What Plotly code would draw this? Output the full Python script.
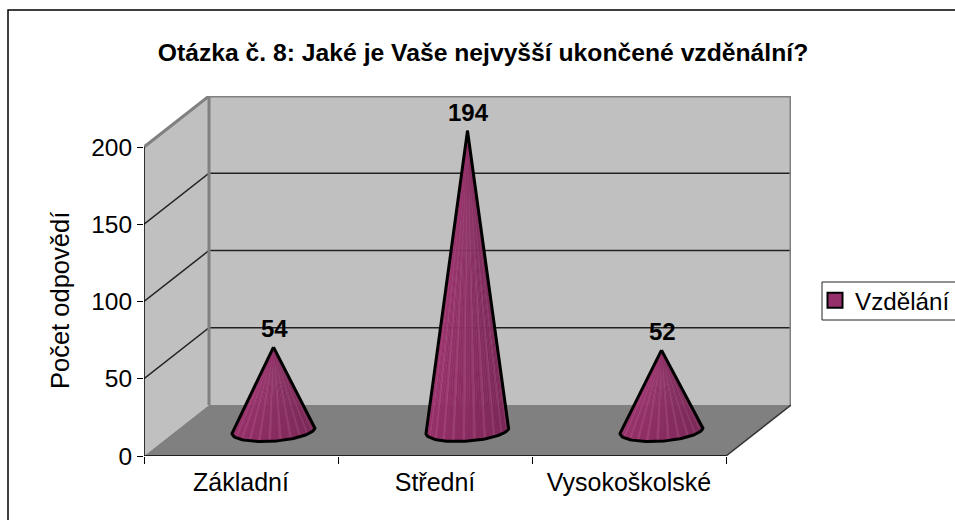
import math
import plotly.graph_objects as go

TITLE = "Otázka č. 8: Jaké je Vaše nejvyšší ukončené vzděnální?"
categories = ["Základní", "Střední", "Vysokoškolské"]
series_name = "Vzdělání"
values = [54, 194, 52]
y_ticks = [0, 50, 100, 150, 200]
y_title = "Počet odpovědí"

W, H = 955, 520
L, R, T, B = 144, 726, 147, 456          # front plane of the 3-D box, px
DPX, DPY = 65, 51                        # oblique depth offset, px
PX_X = (R - L) / len(categories)
PX_Y = (B - T) / y_ticks[-1]
DX = DPX / PX_X
DY = DPY / PX_Y
N = len(categories)
WALL, FLOOR, EDGE = "#c0c0c0", "#808080", "#808080"
PA_R, PA_T = R + DPX, T - DPY            # plot area is the whole box

fig = go.Figure()


def poly(xs, ys, fill=None, line=None, width=1):
    fig.add_trace(go.Scatter(
        x=xs, y=ys, mode="lines", cliponaxis=False, showlegend=False, hoverinfo="skip",
        fill="toself" if fill else None, fillcolor=fill,
        line=dict(color=line or "rgba(0,0,0,0)", width=width)))


top = y_ticks[-1]
poly([0, DX, DX, 0, 0], [0, DY, top + DY, top, 0], fill=WALL)              # side wall
poly([DX, N + DX, N + DX, DX, DX], [DY, DY, top + DY, top + DY, DY], fill=WALL)  # back wall
poly([0, N, N + DX, DX, 0], [0, 0, DY, DY, 0], fill=FLOOR)                 # floor
for v in y_ticks[1:-1]:
    poly([0, DX, N + DX], [v, v + DY, v + DY], line="#222222", width=1.5)
poly([0, DX, N + DX, N + DX], [top, top + DY, top + DY, DY], line=EDGE, width=3)
poly([DX, DX], [DY, top + DY], line=EDGE, width=3)
poly([N, N + DX], [0, DY], line="#333333", width=1.5)
poly([0, N], [0, 0], line="#000000", width=1.5)      # front axis line
poly([0, 0], [0, top], line="#000000", width=1.5)    # left axis line

# cones
ux, uy = 41.5 / PX_X, 3 / PX_Y
vy = -10.6 / PX_Y
STEPS = 48


def base(cx, cy, t):
    return cx + ux * math.cos(t), cy + uy * math.cos(t) + vy * math.sin(t)


for i, val in enumerate(values):
    cx, cy = i + 0.5 + DX / 2, DY / 2
    apex = (cx, cy + val)
    ts = [math.pi * k / STEPS for k in range(STEPS + 1)]
    for k in range(STEPS):
        x0, y0 = base(cx, cy, ts[k])
        x1, y1 = base(cx, cy, ts[k + 1])
        f = k / STEPS          # 0 = right edge, 1 = left edge
        shade = f ** 1.3
        streak = 16 if k % 4 == 1 else 0
        r = int(122 + 36 * shade + streak)
        g = int(38 + 12 * shade + streak)
        b = int(86 + 24 * shade + streak)
        fig.add_trace(go.Scatter(
            x=[apex[0], x0, x1, apex[0]], y=[apex[1], y0, y1, apex[1]],
            mode="lines", showlegend=False, hoverinfo="skip",
            line=dict(width=0.5, color=f"rgb({r},{g},{b})"), fill="toself",
            fillcolor=f"rgb({r},{g},{b})",
            fillgradient=dict(type="vertical", colorscale=[
                [0, f"rgb({r},{g},{b})"], [0.55, f"rgb({r+6},{g+8},{b+8})"], [1, "rgb(178,100,142)"]]),
        ))
    arc = [base(cx, cy, t) for t in ts]
    poly([apex[0]] + [p[0] for p in arc] + [apex[0]],
         [apex[1]] + [p[1] for p in arc] + [apex[1]], line="#000000", width=3)

SPAN_X, SPAN_Y = PA_R - L, B - PA_T

annotations = [dict(x=i + 0.5 + DX / 2, y=v + DY / 2, xref="x", yref="y", text=str(v), showarrow=False,
                    yanchor="bottom", yshift=3, xshift=1, font=dict(size=24, weight="bold", color="#000000"))
               for i, v in enumerate(values)]
annotations.append(dict(x=(60 - L) / SPAN_X, y=(B - 301) / SPAN_Y, xref="paper", yref="paper",
                        text=y_title, textangle=-90, showarrow=False, xanchor="center", yanchor="middle",
                        font=dict(size=25.5, color="#000000")))

# legend entry
fig.add_trace(go.Scatter(
    x=[None], y=[None], mode="markers", name=series_name,
    marker=dict(symbol="square", size=15, color="#96306a", line=dict(color="#000000", width=2)),
))

fig.update_layout(
    width=W, height=H, autosize=False,
    margin=dict(l=L, r=W - PA_R, t=PA_T, b=H - B, autoexpand=False),
    paper_bgcolor="#ffffff", plot_bgcolor="rgba(0,0,0,0)",
    font=dict(family="Liberation Sans", size=24, color="#000000"),
    title=dict(text=TITLE, x=(157 + 809) / 2 / W, xanchor="center", y=1 - 52 / H, yanchor="middle",
               font=dict(size=24.7, weight="bold")),
    annotations=annotations,
    xaxis=dict(range=[0, N + DX], tickvals=[i + 0.5 for i in range(N)], ticktext=categories,
               ticks="", showgrid=False, zeroline=False, showline=False, ticklabelstandoff=9,
               tickfont=dict(size=25),
               minor=dict(tickvals=list(range(N + 1)), ticks="outside", ticklen=7, tickcolor="#000000", tickwidth=1, showgrid=False),
               fixedrange=True),
    yaxis=dict(range=[0, top + DY], tickvals=y_ticks, ticks="outside", ticklen=6, tickcolor="#000000", tickwidth=1,
               showgrid=False, zeroline=False, showline=False, tickfont=dict(size=24.5), fixedrange=True),
    legend=dict(x=(815 - L) / SPAN_X, xanchor="left", y=(B - 278) / SPAN_Y, yanchor="top", borderwidth=0,
                bgcolor="rgba(0,0,0,0)", font=dict(size=24.2), itemwidth=30),
    shapes=[dict(type="rect", xref="paper", yref="paper",
                 x0=(8 - L) / SPAN_X, x1=(970 - L) / SPAN_X,
                 y0=(B - 535) / SPAN_Y, y1=(B - 10) / SPAN_Y,
                 line=dict(color="#000000", width=1.5), layer="below"),
            dict(type="rect", xref="paper", yref="paper",
                 x0=(822 - L) / SPAN_X, x1=(970 - L) / SPAN_X,
                 y0=(B - 320) / SPAN_Y, y1=(B - 282) / SPAN_Y,
                 line=dict(color="#222222", width=1), layer="below")],
)
fig.write_html("out.html", config=dict(displayModeBar=False),
               post_script="document.body.style.margin='0';")
